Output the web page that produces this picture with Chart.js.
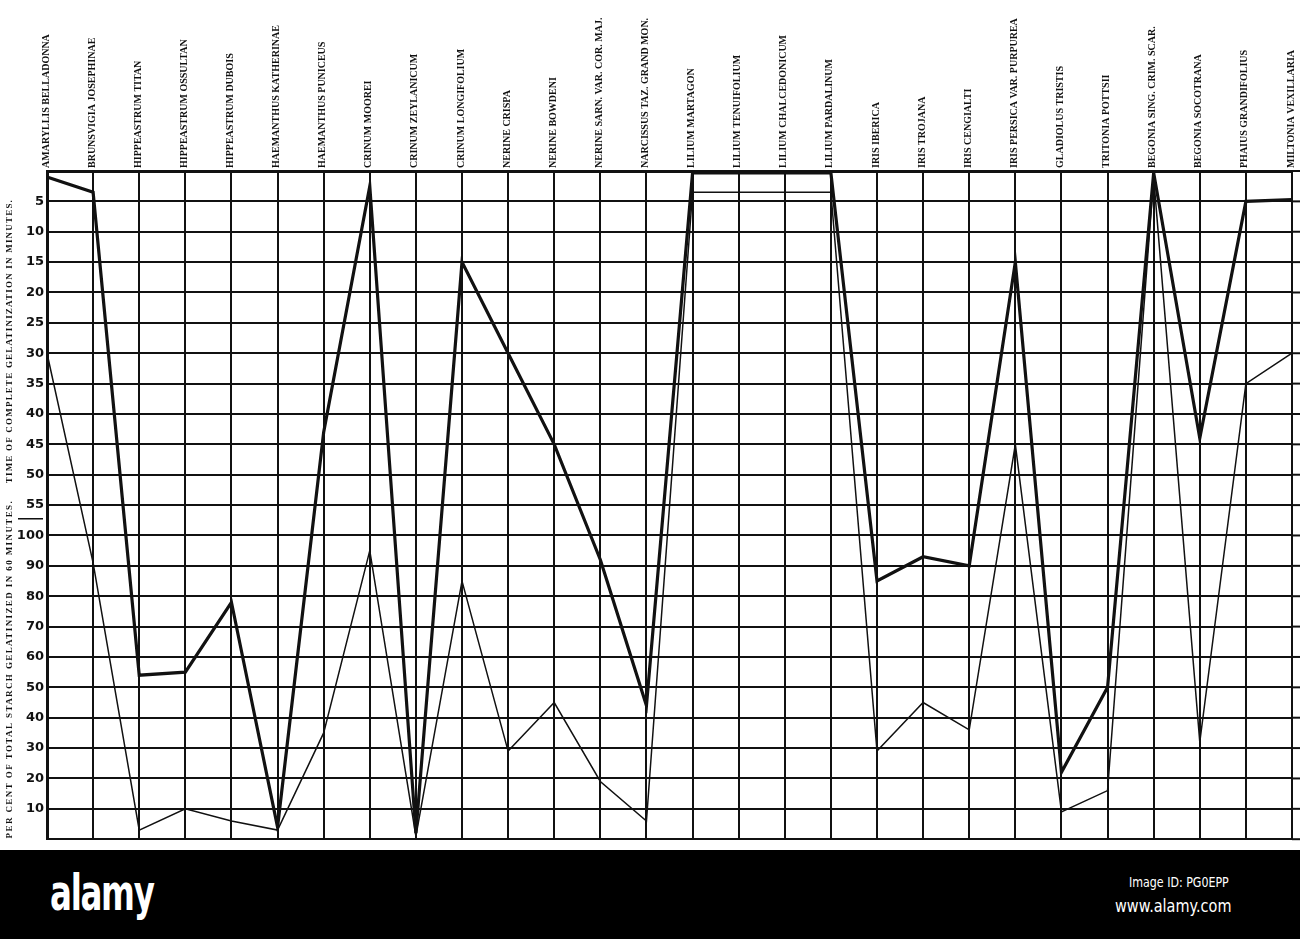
<!DOCTYPE html>
<html>
<head>
<meta charset="utf-8">
<script src="https://cdn.jsdelivr.net/npm/chart.js@4.4.1/dist/chart.umd.min.js"></script>
<style>
  body { margin: 0; background: #fff; width: 1300px; height: 939px; overflow: hidden; }
  #wrap { width: 1300px; height: 850px; }
  #band { width: 1300px; height: 89px; background: #000; position: relative; color: #fff; }
  #band div { position: absolute; transform-origin: 0 0; white-space: nowrap; font-family: "DejaVu Sans", sans-serif; }
  #logo { left: 50px; top: 18px; font-size: 50px; font-weight: bold; letter-spacing: -2px; line-height: 50px; transform: scaleX(0.65); }
  #imgid { left: 1129px; top: 24px; font-size: 14px; transform: scaleX(0.79); }
  #site { left: 1115px; top: 46px; font-size: 17px; transform: scaleX(0.85); }
</style>
</head>
<body>
<div id="wrap"><canvas id="starchChart" width="1300" height="850"></canvas></div>
<div id="band">
  <div id="logo">alamy</div>
  <div id="imgid">Image ID: PG0EPP</div>
  <div id="site">www.alamy.com</div>
</div>
<script>
// plants along the top
const plants = [
  'AMARYLLIS BELLADONNA', 'BRUNSVIGIA JOSEPHINAE', 'HIPPEASTRUM TITAN', 'HIPPEASTRUM OSSULTAN',
  'HIPPEASTRUM DUBOIS', 'HAEMANTHUS KATHERINAE', 'HAEMANTHUS PUNICEUS', 'CRINUM MOOREI',
  'CRINUM ZEYLANICUM', 'CRINUM LONGIFOLIUM', 'NERINE CRISPA', 'NERINE BOWDENI',
  'NERINE SARN. VAR. COR. MAJ.', 'NARCISSUS TAZ. GRAND MON.', 'LILIUM MARTAGON', 'LILIUM TENUIFOLIUM',
  'LILIUM CHALCEDONICUM', 'LILIUM PARDALINUM', 'IRIS IBERICA', 'IRIS TROJANA',
  'IRIS CENGIALTI', 'IRIS PERSICA VAR. PURPUREA', 'GLADIOLUS TRISTIS', 'TRITONIA POTTSII',
  'BEGONIA SING. CRIM. SCAR.', 'BEGONIA SOCOTRANA', 'PHAIUS GRANDIFOLIUS', 'MILTONIA VEXILLARIA'
];

// heavy line: minutes to complete gelatinization, or per cent gelatinized in 60 min
const heavyMinutes = [1, 3.5, null, null, null, null, 43, 2.5, null, 15, 30, 45, null, null,
  0.3, 0.3, 0.3, 0.3, null, null, null, 15, null, null, 0.3, 44, 5, 4.7];
const heavyPercent = [null, null, 54, 55, 78, 4, null, null, 2, null, null, null, 92, 44,
  null, null, null, null, 85, 93, 90, null, 22, 50, null, null, null, null];

// light line
const lightMinutes = [30, null, null, null, null, null, null, null, null, null, null, null, null, null,
  3.5, 3.5, 3.5, 3.5, null, null, null, 45, null, null, 1, null, 35, 30];
const lightPercent = [null, 91, 3, 10, 6, 3, 35, 95, 1, 85, 29, 45, 19, 6,
  null, null, null, null, 29, 45, 36, null, 9, 16, null, 32, null, null];

// left scale: upper half minutes, lower half per cent
const minuteTicks = [5, 10, 15, 20, 25, 30, 35, 40, 45, 50, 55];
const percentTicks = [100, 90, 80, 70, 60, 50, 40, 30, 20, 10];

// one grid step = 5 minutes above, 10 per cent below
const ROWS = minuteTicks.length + percentTicks.length + 1;
function toRow(minutes, percent) {
  return minutes.map(function(m, i) {
    return m !== null ? ROWS - m / 5 : percent[i] / 10;
  });
}

const ink = '#111';

const sideTitles = {
  id: 'sideTitles',
  afterDraw: function(chart) {
    const ctx = chart.ctx;
    const y = chart.scales.y;
    const area = chart.chartArea;
    ctx.save();
    // grid runs on past the last column to the edge
    ctx.strokeStyle = ink;
    ctx.lineWidth = 2;
    for (let v = 0; v <= ROWS; v++) {
      const py = y.getPixelForValue(v);
      ctx.beginPath();
      ctx.moveTo(area.right, py);
      ctx.lineTo(chart.width, py);
      ctx.stroke();
    }
    ctx.fillStyle = ink;
    ctx.font = 'bold 9px "Liberation Serif", serif';
    ctx.textAlign = 'center';
    ctx.textBaseline = 'middle';
    [['TIME OF COMPLETE GELATINIZATION IN MINUTES.', 16.4, '1.2px'],
     ['PER CENT OF TOTAL STARCH GELATINIZED IN 60 MINUTES.', 5.6, '1.4px']].forEach(function(t) {
      ctx.save();
      ctx.letterSpacing = t[2];
      ctx.translate(10, y.getPixelForValue(t[1]));
      ctx.rotate(-Math.PI / 2);
      ctx.fillText(t[0], 0, 0);
      ctx.restore();
    });
    // short rule between 55 and 100
    const yy = y.getPixelForValue(10.55);
    ctx.lineWidth = 1.5;
    ctx.beginPath();
    ctx.moveTo(18, yy);
    ctx.lineTo(43, yy);
    ctx.stroke();
    ctx.restore();
  }
};

new Chart(document.getElementById('starchChart').getContext('2d'), {
  type: 'line',
  data: {
    labels: plants,
    datasets: [{
      data: toRow(heavyMinutes, heavyPercent),
      borderColor: ink,
      borderWidth: 3.2,
      pointRadius: 0,
      tension: 0
    }, {
      data: toRow(lightMinutes, lightPercent),
      borderColor: ink,
      borderWidth: 1.5,
      pointRadius: 0,
      tension: 0
    }]
  },
  options: {
    responsive: false,
    animation: false,
    devicePixelRatio: 1,
    layout: { padding: { left: 0, right: 8, top: 0, bottom: 2 } },
    plugins: { legend: { display: false }, tooltip: { enabled: false } },
    scales: {
      x: {
        type: 'category',
        position: 'top',
        offset: false,
        afterFit: function(scale) { scale.height = 171; },
        grid: { color: ink, lineWidth: 2, drawTicks: false },
        border: { color: ink, width: 3 },
        ticks: {
          autoSkip: false,
          minRotation: 90,
          maxRotation: 90,
          padding: 3,
          labelOffset: 11,
          color: ink,
          font: { family: '"Liberation Serif", serif', size: 10, weight: 'bold' }
        }
      },
      y: {
        min: 0,
        max: ROWS,
        afterFit: function(scale) { scale.width = 47; },
        grid: { color: ink, lineWidth: 2, drawTicks: false },
        border: { color: ink, width: 3 },
        ticks: {
          stepSize: 1,
          padding: 3,
          color: ink,
          font: { family: '"DejaVu Sans", sans-serif', size: 13, weight: 'bold' },
          callback: function(v) {
            if (v >= 1 && v <= percentTicks.length) return percentTicks[percentTicks.length - v];
            if (v > percentTicks.length && v < ROWS) return minuteTicks[ROWS - 1 - v];
            return '';
          }
        }
      }
    }
  },
  plugins: [sideTitles]
});
</script>
</body>
</html>
